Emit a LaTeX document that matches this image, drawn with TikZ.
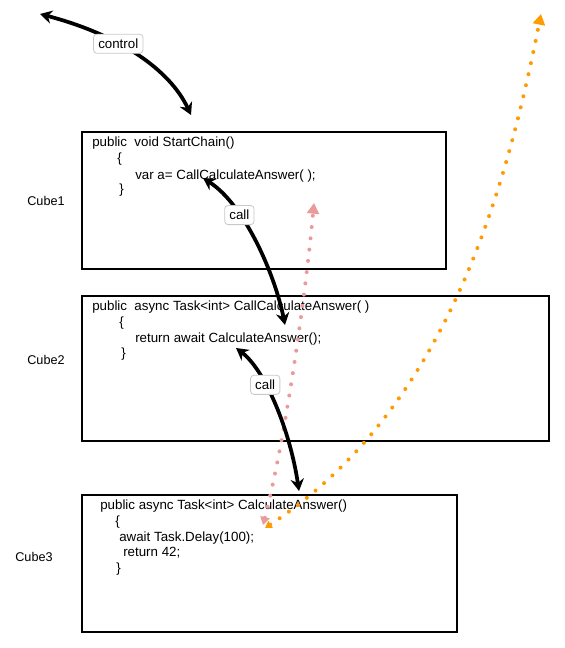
\documentclass[tikz,border=0pt]{standalone}
\usepackage{fontspec}
\setmainfont{Liberation Sans}
\usetikzlibrary{arrows.meta}

\definecolor{callpink}{HTML}{EA9A9A}
\definecolor{retorange}{HTML}{FF9A00}
\definecolor{tagborder}{HTML}{C8C8C8}

\tikzset{
  cubebox/.style={draw, line width=1.6pt, anchor=north west, inner sep=0pt},
  codeline/.style={anchor=west, inner sep=0pt, font=\fontsize{10}{12}\selectfont},
  cubename/.style={font=\fontsize{9.5}{11}\selectfont},
  tag/.style={draw=tagborder, line width=0.6pt, fill=white, rounded corners=2.5pt,
    inner xsep=3.5pt, inner ysep=3.5pt, font=\fontsize{10}{12}\selectfont},
  flow/.style={line width=2.8pt, {Stealth[length=9pt,width=10pt]}-{Stealth[length=9pt,width=10pt]}},
  dots/.style={line width=3pt, line cap=round, dash pattern=on 0pt off 8.5pt},
}

\begin{document}
\begin{tikzpicture}[x=0.75pt, y=-0.75pt]
        \useasboundingbox (0,0) rectangle (564,648);

        % The three cubes
        \node[cubebox, minimum width=273pt, minimum height=102.75pt] (cube1) at (81,131) {};
        \node[cubebox, minimum width=350.25pt, minimum height=108.75pt] (cube2) at (81,295) {};
        \node[cubebox, minimum width=281.25pt, minimum height=102.75pt] (cube3) at (81,494) {};

        % Cube names
        \node[cubename] (name1) at (46,201) {Cube1};
        \node[cubename] (name2) at (46,360) {Cube2};
        \node[cubename] (name3) at (34,557) {Cube3};

        % Code in cube 1
        \node[codeline] (c1a) at (92,143) {public\ \ void StartChain()};
        \node[codeline] (c1b) at (117,159) {\{};
        \node[codeline] (c1c) at (135,176) {var a= CallCalculateAnswer( );};
        \node[codeline] (c1d) at (119,190) {\}};

        % Code in cube 2
        \node[codeline] (c2a) at (92,307) {public\ \ async Task<int> CallCalculateAnswer( )};
        \node[codeline] (c2b) at (119,323) {\{};
        \node[codeline] (c2c) at (135,339) {return await CalculateAnswer();};
        \node[codeline] (c2d) at (121,354) {\}};

        % Code in cube 3
        \node[codeline] (c3a) at (100,506) {public async Task<int> CalculateAnswer()};
        \node[codeline] (c3b) at (115,522) {\{};
        \node[codeline] (c3c) at (119,538) {await Task.Delay(100);};
        \node[codeline] (c3d) at (123,553) {return 42;};
        \node[codeline] (c3e) at (116,569) {\}};

        % End points of the connectors
        \coordinate (ctrlA) at (40,14);
        \coordinate (ctrlB) at (191,115);
        \coordinate (call1A) at (285,325);
        \coordinate (call1B) at (203,178);
        \coordinate (call2A) at (299,491);
        \coordinate (call2B) at (236,348);
        \coordinate (backA) at (263,525);
        \coordinate (backB) at (314,203);
        \coordinate (doneA) at (265,528);
        \coordinate (doneB) at (541,14);

        % Returning flows
        \draw[dots, callpink, {Triangle[length=6pt,width=7pt]}-{Triangle[length=8pt,width=9pt]}]
          (backA) .. controls (285,440) and (305,300) .. (backB);
        \draw[dots, retorange, {Triangle[length=5pt,width=6pt]}-{Triangle[length=8pt,width=9pt]}]
          (doneA) .. controls (445,410) and (505,195) .. (doneB);

        % Calls
        \draw[flow] (ctrlA) .. controls (120,35) and (170,70) .. (ctrlB)
          node[tag, pos=0.38] (ctrltag) {control};
        \draw[flow] (call1A) .. controls (275,275) and (245,205) .. (call1B)
          node[tag, pos=0.68] (call1tag) {call};
        \draw[flow] (call2A) .. controls (290,430) and (265,370) .. (call2B)
          node[tag, pos=0.64] (call2tag) {call};
\end{tikzpicture}
\end{document}
